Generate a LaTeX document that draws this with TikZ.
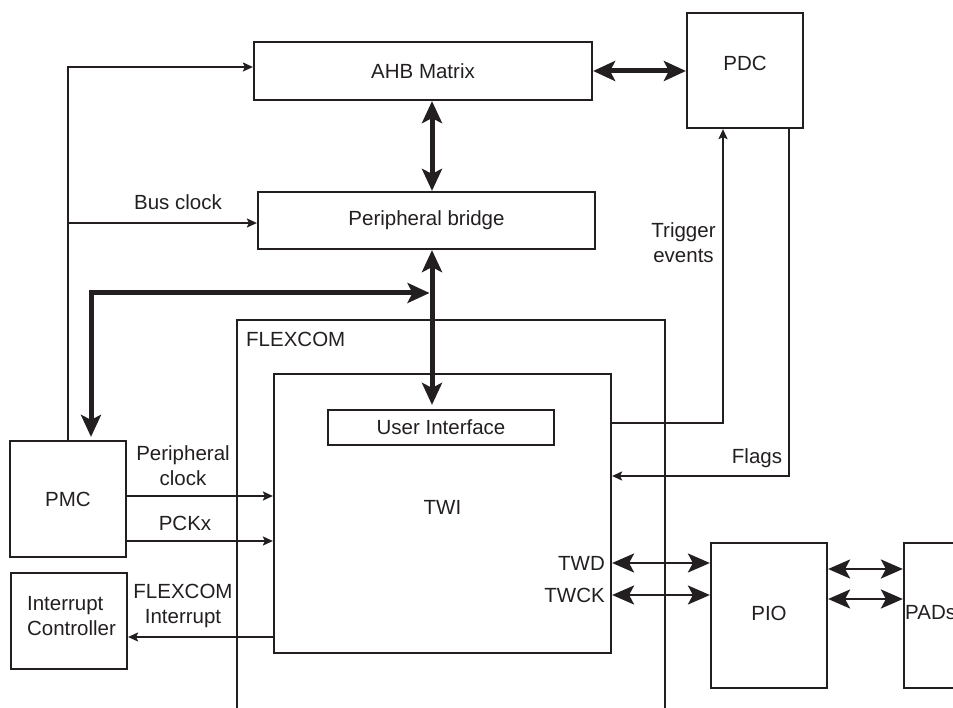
\documentclass[tikz,border=0pt]{standalone}
\usepackage{fontspec}
\setmainfont{Liberation Sans}
\usetikzlibrary{arrows.meta}
\definecolor{ink}{RGB}{35,31,32}
\begin{document}
\begin{tikzpicture}[x=1pt,y=-1pt,
  font=\fontsize{20.5}{25}\selectfont,
  every node/.style={text=ink},
  box/.style={draw=ink,line width=2.2pt,inner sep=0pt,rectangle},
  wire/.style={draw=ink,line width=2pt},
  sig/.style={wire,-{Stealth[length=10pt,width=9pt,inset=2pt]}},
  bidir/.style={draw=ink,line width=2.4pt,{Stealth[length=22pt,width=19pt,inset=5pt]}-{Stealth[length=22pt,width=19pt,inset=5pt]}},
  bus/.style={draw=ink,line width=5pt},
  bustip/.tip={Stealth[length=22pt,width=20pt,inset=5pt]},
  lbl/.style={inner sep=0pt,align=center}
]
\useasboundingbox (0,0) rectangle (953,708);
\clip (0,0) rectangle (953,708);

% boxes
\node[box,minimum width=338pt,minimum height=58pt] (ahb) at (423,71) {AHB Matrix};
\node[box,minimum width=116pt,minimum height=115pt,label={[yshift=7.5pt]center:PDC}] (pdc) at (745,70.5) {};
\node[box,minimum width=337pt,minimum height=57pt] (pb) at (426.5,220.5) {Peripheral bridge};
\node[box,minimum width=337pt,minimum height=279pt,label={[yshift=6.5pt]center:TWI}] (twi) at (442.5,513.5) {};
\node[box,minimum width=226pt,minimum height=35pt] (ui) at (441,427.5) {User Interface};
\node[box,minimum width=116pt,minimum height=116pt] (pmc) at (68,499) {PMC};
\node[box,minimum width=116pt,minimum height=96pt,label={[align=left,xshift=2.5pt,yshift=4.5pt]center:Interrupt\\Controller}] (ic) at (69,621) {};
\node[box,minimum width=116pt,minimum height=145pt,label={[yshift=2.5pt]center:PIO}] (pio) at (769,615.5) {};
\node[box,minimum width=116pt,minimum height=145pt] (pads) at (962,615.5) {};
\node[anchor=west,inner sep=0pt] (padslbl) at (905,613) {PADs};

% FLEXCOM outline (open at the bottom)
\coordinate (fxbl) at (237,712);
\coordinate (fxtl) at (237,320);
\coordinate (fxtr) at (665,320);
\coordinate (fxbr) at (665,712);
\draw[wire] (fxbl) -- (fxtl) -- (fxtr) -- (fxbr);
\node[anchor=west,inner sep=0pt] (fxlbl) at (246,339) {FLEXCOM};

% clock line from PMC
\coordinate (clk) at (68,67);
\coordinate (bclk) at (68,223);
\draw[sig] (pmc.north) -- (clk) -- (ahb.west |- clk);
\draw[sig] (bclk) -- (pb.west |- bclk);
\node[lbl] (bclklbl) at (178,202) {Bus clock};

% system bus
\coordinate (pmcb) at (91,293);
\coordinate (busx) at (429.5,293);
\coordinate (busv) at (432,0);
\draw[bus,bustip-bustip] (ahb.south -| busv) -- (pb.north -| busv);
\draw[bus,bustip-bustip] (ahb.east) -- (pdc.west |- ahb.east);
\draw[bus,bustip-bustip,shorten >=4pt] (pb.south -| busv) -- (ui.north -| busv);
\draw[bus,bustip-bustip,shorten <=3pt] (pmc.north -| pmcb) -- (pmcb) -- (busx);

% PMC clocks
\coordinate (pcy) at (0,496);
\coordinate (pckx) at (0,541);
\draw[sig] (pmc.east |- pcy) -- (twi.west |- pcy);
\draw[sig] (pmc.east |- pckx) -- (twi.west |- pckx);
\node[lbl] (pclbl) at (183,465.5) {Peripheral\\clock};
\node[lbl] (pckxlbl) at (185,523) {PCKx};

% interrupt
\coordinate (irq) at (0,637);
\draw[sig] (twi.west |- irq) -- (ic.east |- irq);
\node[lbl] (irqlbl) at (183,606) {FLEXCOM\\Interrupt};

% trigger events and flags
\coordinate (trig) at (723,423);
\coordinate (flg) at (789,476);
\draw[sig] (twi.east |- trig) -- (trig) -- (pdc.south -| trig);
\draw[sig] (pdc.south -| flg) -- (flg) -- (twi.east |- flg);
\node[lbl] (triglbl) at (683.5,242.5) {Trigger\\events};
\node[lbl] (flglbl) at (757,458) {Flags};

% TWI pins
\coordinate (twd) at (0,563);
\coordinate (twck) at (0,595);
\draw[bidir] (twi.east |- twd) -- (pio.west |- twd);
\draw[bidir] (twi.east |- twck) -- (pio.west |- twck);
\node[anchor=east,inner sep=0pt] (twdlbl) at (605,563) {TWD};
\node[anchor=east,inner sep=0pt] (twcklbl) at (605,595) {TWCK};

% PIO to PADs
\coordinate (p1) at (0,569);
\coordinate (p2) at (0,599);
\draw[bidir] (pio.east |- p1) -- (pads.west |- p1);
\draw[bidir] (pio.east |- p2) -- (pads.west |- p2);
\end{tikzpicture}
\end{document}
